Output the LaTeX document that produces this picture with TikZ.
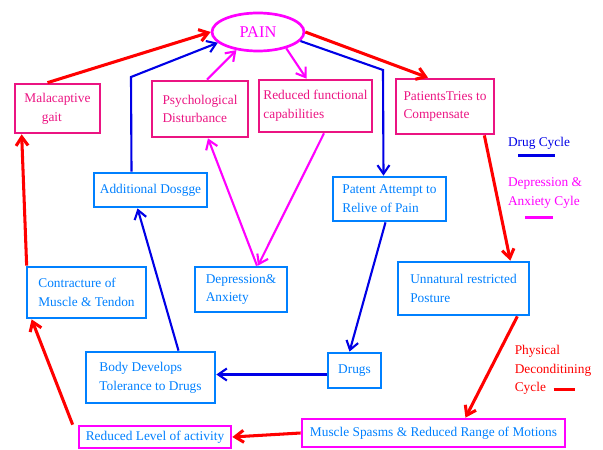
\documentclass[tikz,border=0pt]{standalone}
\usepackage{fontspec}
\setmainfont{Liberation Serif}
\usetikzlibrary{positioning,arrows.meta,calc,shapes.geometric}
\definecolor{hotpk}{RGB}{235,20,130}
\definecolor{skyb}{RGB}{0,128,255}
\definecolor{drugb}{RGB}{0,0,230}
\definecolor{mgt}{RGB}{255,0,255}
\definecolor{rd}{RGB}{255,0,0}
\begin{document}
\begin{tikzpicture}[x=0.03cm, y=-0.03cm, font=\fontsize{11.4}{16}\selectfont,
  box/.style={draw, line width=2.3pt, align=left, inner sep=2pt},
  pk/.style={box, draw=hotpk, text=hotpk},
  bl/.style={box, draw=skyb, text=skyb},
  mg/.style={box, draw=mgt, text=skyb},
  flow/.style={-{Straight Barb[length=2.6mm, width=3.6mm]}, line width=1.8pt},
  rflow/.style={flow, draw=rd, line width=2.6pt},
  bflow/.style={flow, draw=drugb},
  mflow/.style={flow, draw=mgt},
  lab/.style={align=left, inner sep=0pt},
  legline/.style={line width=2.6pt}]
  \useasboundingbox (0,0) rectangle (603,450);
  % top row
  \node[ellipse, draw=mgt, line width=2.3pt, text=mgt, font=\fontsize{14}{16}\selectfont, minimum width=2.76cm, minimum height=1.14cm] (pain) at (258,32) {PAIN};
  \node[pk, minimum width=2.55cm, minimum height=1.47cm] (gait) at (57.5,108.5) {Malacaptive\\\hspace*{1.3em}gait};
  \node[pk, minimum width=2.88cm, minimum height=1.68cm] (psych) at (200,109) {Psychological\\Disturbance};
  \node[pk, minimum width=3.39cm, minimum height=1.56cm] (redf) at (315.5,106) {Reduced functional\\capabilities};
  \node[pk, minimum width=2.94cm, minimum height=1.65cm] (comp) at (445,106.5) {PatientsTries to\\Compensate};
  % middle rows
  \node[bl, minimum width=3.39cm, minimum height=1.02cm] (dose) at (150.5,190) {Additional Dosgge};
  \node[bl, minimum width=3.39cm, minimum height=1.32cm] (relv) at (389.5,199) {Patent Attempt to\\Relive of Pain};
  \node[bl, minimum width=3.57cm, minimum height=1.53cm] (contr) at (86.5,292.5) {Contracture of\\Muscle \& Tendon};
  \node[bl, minimum width=2.76cm, minimum height=1.35cm] (depr) at (241,289.5) {Depression\&\\Anxiety};
  \node[bl, minimum width=3.93cm, minimum height=1.59cm] (post) at (463.5,288.5) {Unnatural restricted\\Posture};
  \node[bl, minimum width=3.87cm, minimum height=1.53cm] (body) at (150.5,377.5) {Body Develops\\Tolerance to Drugs};
  \node[bl, minimum width=1.59cm, minimum height=1.05cm] (drugs) at (354.5,370.5) {Drugs};
  % bottom row
  \node[mg, minimum width=4.56cm, minimum height=0.66cm] (redl) at (155,437) {Reduced Level of activity};
  \node[mg, minimum width=7.89cm, minimum height=0.84cm] (spasm) at (433.5,433) {Muscle Spasms \& Reduced Range of Motions};
  % legend
  \node[lab, text=drugb] (legdrug) at (539,143) {Drug Cycle};
  \node[lab, text=mgt] (legdep) at (545,193) {Depression \&\\Anxiety Cyle};
  \node[lab, text=rd] (legphys) at (553,370) {Physical\\Deconditining\\Cycle};
  \draw[legline, drugb] ($(legdrug.south)+(-21,6)$) -- ($(legdrug.south)+(16,6)$);
  \draw[legline, mgt] ($(legdep.south)+(-20,9)$) -- ($(legdep.south)+(8,9)$);
  \draw[legline, rd] ($(legphys.south west)+(39,-6)$) -- ($(legphys.south west)+(60,-6)$);
  % physical deconditioning cycle
  \draw[rflow] ($(gait.north)+(-10,0)$) -- (pain.west);
  \draw[rflow] (pain.east) -- ($(comp.north)+(-17,0)$);
  \draw[rflow] ($(comp.south east)+(-11,0)$) -- ($(post.north east)+(-20,0)$);
  \draw[rflow] ($(post.south east)+(-13,0)$) -- ($(spasm.north)+(32,0)$);
  \draw[rflow] (spasm.west) -- (redl.east);
  \draw[rflow] ($(redl.north west)+(-5,0)$) -- ($(contr.south west)+(6,0)$);
  \draw[rflow] ($(contr.north west)+(1,0)$) -- ($(gait.south west)+(8,0)$);
  % drug cycle
  \coordinate (dtop) at (131,77);
  \coordinate (rtop) at (383,70);
  \draw[bflow] ($(dose.north)+(-19,0)$) -- (dtop) -- (pain.195);
  \draw[bflow] (pain.-12) -- (rtop) -- ($(relv.north)+(-6,0)$);
  \draw[bflow] ($(relv.south)+(-4,0)$) -- ($(drugs.north)+(-5,0)$);
  \draw[bflow] ($(drugs.west)+(0,4)$) -- ($(body.east)+(0,-3)$);
  \draw[bflow] ($(body.north)+(28,0)$) -- ($(dose.south)+(-13,0)$);
  % depression & anxiety cycle
  \draw[mflow] ($(psych.north)+(7,0)$) -- (pain.220);
  \draw[mflow] (pain.-30) -- ($(redf.north)+(-9,0)$);
  \draw[mflow] ($(redf.south)+(8.5,0)$) -- ($(depr.north)+(17,0)$);
  \draw[mflow] ($(depr.north)+(16,0)$) -- ($(psych.south)+(8,0)$);
\end{tikzpicture}
\end{document}
